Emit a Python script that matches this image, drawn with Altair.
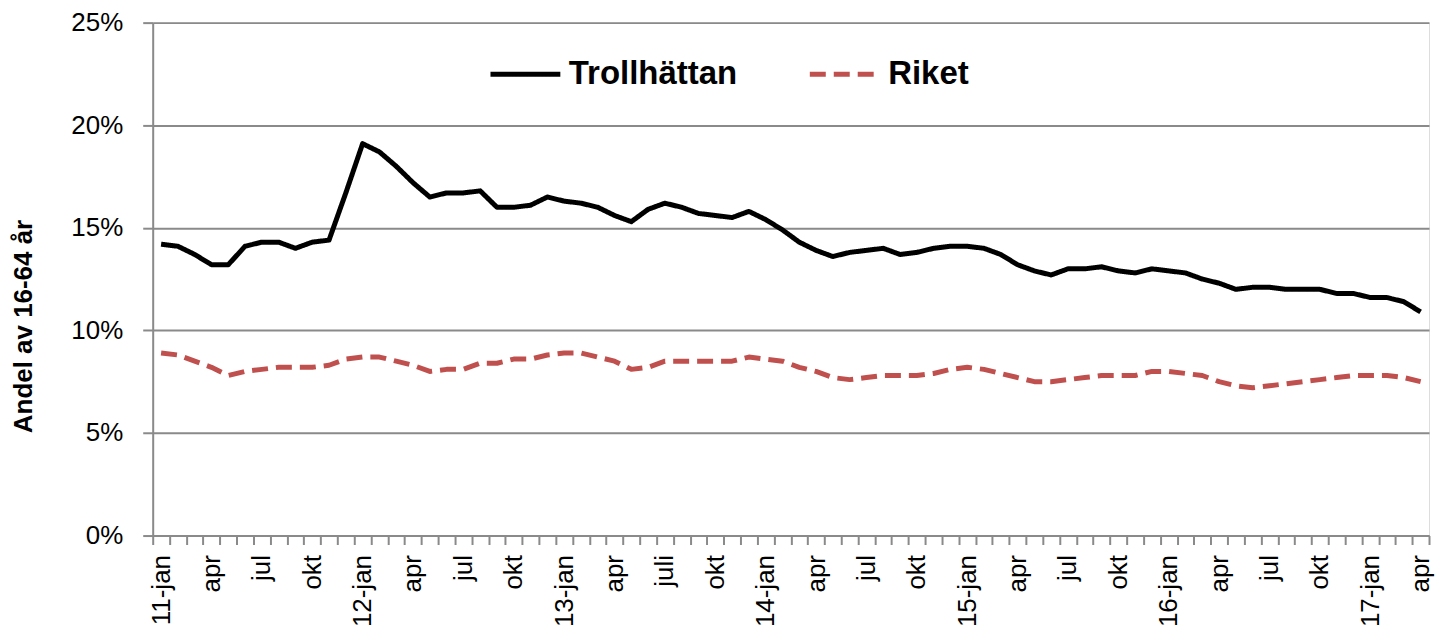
import json
import altair as alt
import pandas as pd

# Monthly values, Jan 2011 - Apr 2017 (percent of population 16-64)
trollhattan = [14.2, 14.1, 13.7, 13.2, 13.2, 14.1, 14.3, 14.3, 14.0, 14.3, 14.4, 16.7,
               19.1, 18.7, 18.0, 17.2, 16.5, 16.7, 16.7, 16.8, 16.0, 16.0, 16.1, 16.5,
               16.3, 16.2, 16.0, 15.6, 15.3, 15.9, 16.2, 16.0, 15.7, 15.6, 15.5, 15.8,
               15.4, 14.9, 14.3, 13.9, 13.6, 13.8, 13.9, 14.0, 13.7, 13.8, 14.0, 14.1,
               14.1, 14.0, 13.7, 13.2, 12.9, 12.7, 13.0, 13.0, 13.1, 12.9, 12.8, 13.0,
               12.9, 12.8, 12.5, 12.3, 12.0, 12.1, 12.1, 12.0, 12.0, 12.0, 11.8, 11.8,
               11.6, 11.6, 11.4, 10.9]
riket = [8.9, 8.8, 8.5, 8.2, 7.8, 8.0, 8.1, 8.2, 8.2, 8.2, 8.3, 8.6,
         8.7, 8.7, 8.5, 8.3, 8.0, 8.1, 8.1, 8.4, 8.4, 8.6, 8.6, 8.8,
         8.9, 8.9, 8.7, 8.5, 8.1, 8.2, 8.5, 8.5, 8.5, 8.5, 8.5, 8.7,
         8.6, 8.5, 8.2, 8.0, 7.7, 7.6, 7.7, 7.8, 7.8, 7.8, 7.9, 8.1,
         8.2, 8.1, 7.9, 7.7, 7.5, 7.5, 7.6, 7.7, 7.8, 7.8, 7.8, 8.0,
         8.0, 7.9, 7.8, 7.5, 7.3, 7.2, 7.3, 7.4, 7.5, 7.6, 7.7, 7.8,
         7.8, 7.8, 7.7, 7.5]
tick_labels = ["11-jan", "apr", "jul", "okt", "12-jan", "apr", "jul", "okt",
               "13-jan", "apr", "juli", "okt", "14-jan", "apr", "jul", "okt",
               "15-jan", "apr", "jul", "okt", "16-jan", "apr", "jul", "okt",
               "17-jan", "apr"]
series_names = ["Trollhättan", "Riket"]
series_colors = ["#000000", "#C0504D"]
y_ticks = [0, 5, 10, 15, 20, 25]

rows = []
for name, vals in zip(series_names, [trollhattan, riket]):
    for i, v in enumerate(vals):
        rows.append({"m": i, "serie": name, "v": v})
df = pd.DataFrame(rows)

n = len(trollhattan)
boundaries = [k - 0.5 for k in range(n + 1)]
label_arr = json.dumps(tick_labels)
x_label_expr = f"((datum.value + 0.5) % 3 == 0) ? {label_arr}[(datum.value + 0.5) / 3] : ''"

W, H = 1279, 514
FONT = "Liberation Sans"
GREY = "#8a8a8a"

legend = alt.Legend(
    title=None, orient="none", legendX=336, legendY=14, direction="horizontal",
    symbolType="stroke", symbolSize=4900, symbolStrokeWidth=5,
    labelFont=FONT, labelFontSize=33, labelFontWeight="bold", labelColor="black",
    labelLimit=400, labelOffset=6, columnPadding=62, padding=0,
)

chart = alt.Chart(df).mark_line(strokeWidth=5, strokeJoin="round").encode(
    x=alt.X("m:Q",
            scale=alt.Scale(domain=[-0.5, n - 0.5], nice=False, zero=False),
            axis=alt.Axis(values=boundaries, labelExpr=x_label_expr, labelAngle=270,
                          labelOffset=W / n / 2, labelOverlap=False, labelFlush=False,
                          labelFont=FONT, labelFontSize=26, labelColor="black",
                          labelPadding=10, tickSize=9, tickColor=GREY, tickWidth=2,
                          domainColor=GREY, domainWidth=2, grid=False, title=None)),
    y=alt.Y("v:Q",
            scale=alt.Scale(domain=[0, 25], nice=False),
            axis=alt.Axis(values=y_ticks, labelExpr="datum.value + '%'",
                          labelFont=FONT, labelFontSize=26, labelColor="black",
                          labelPadding=20, tickSize=10, tickColor=GREY, tickWidth=2,
                          domainColor=GREY, domainWidth=2,
                          grid=True, gridColor=GREY, gridWidth=2,
                          title="Andel av 16-64 år", titleFont=FONT, titleFontSize=26,
                          titleFontWeight="bold", titleColor="black",
                          titleX=-121, titleY=304, titleBaseline="alphabetic",
                          titleAngle=270)),
    color=alt.Color("serie:N", scale=alt.Scale(domain=series_names, range=series_colors),
                    legend=legend),
    strokeDash=alt.StrokeDash("serie:N",
                              scale=alt.Scale(domain=series_names, range=[[1, 0], [16, 8]]),
                              legend=legend),
).properties(
    width=W, height=H, autosize="none",
    padding={"left": 145, "top": 14, "right": 6, "bottom": 98},
).configure_view(stroke=None).configure(background="white")

chart.save("out.html", embed_options={"renderer": "svg", "actions": False})
